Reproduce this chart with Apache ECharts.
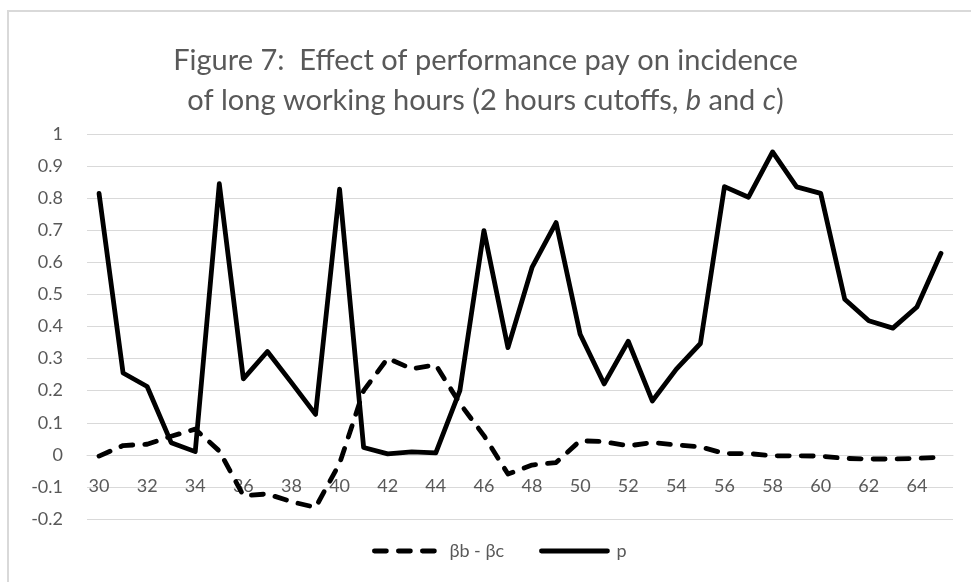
<!DOCTYPE html>
<html>
<head>
<meta charset="utf-8">
<script src="https://cdn.jsdelivr.net/npm/echarts@6/dist/echarts.min.js"></script>
<style>
  html, body { margin: 0; padding: 0; background: #fff; }
  #chart { width: 971px; height: 582px; }
</style>
</head>
<body>
<div id="chart"></div>
<script>
// hours worked (category axis)
const hours = ['30', '31', '32', '33', '34', '35', '36', '37', '38', '39',
  '40', '41', '42', '43', '44', '45', '46', '47', '48', '49',
  '50', '51', '52', '53', '54', '55', '56', '57', '58', '59',
  '60', '61', '62', '63', '64', '65'];

// βb - βc (dashed)
const betaDiff = [-0.004, 0.029, 0.033, 0.058, 0.08, 0.012, -0.127, -0.122, -0.146, -0.164,
  -0.027, 0.2, 0.301, 0.268, 0.28, 0.16, 0.06, -0.06, -0.032, -0.024,
  0.044, 0.041, 0.028, 0.038, 0.031, 0.025, 0.004, 0.004, -0.003, -0.003,
  -0.004, -0.011, -0.013, -0.013, -0.011, -0.008];

// p (solid)
const pValues = [0.815, 0.255, 0.213, 0.038, 0.01, 0.845, 0.237, 0.322, 0.225, 0.126,
  0.828, 0.023, 0.003, 0.009, 0.006, 0.2, 0.699, 0.334, 0.584, 0.724,
  0.376, 0.221, 0.354, 0.168, 0.267, 0.347, 0.836, 0.803, 0.944, 0.835,
  0.815, 0.485, 0.418, 0.395, 0.461, 0.628];

const seriesNames = ['βb - βc', 'p'];

const font = 'Lato, "Open Sans", sans-serif';
const textColor = '#595959';
const gridColor = '#d9d9d9';
const lineW = 4.8;

const chart = echarts.init(document.getElementById('chart'));
const option = {
  animation: false,
  backgroundColor: '#fff',
  textStyle: { fontFamily: font },
  graphic: [
    {
      type: 'rect',
      shape: { x: 8, y: 11, width: 1100, height: 1000 },
      style: { fill: 'none', stroke: gridColor, lineWidth: 2 },
      silent: true,
    },
  ],
  title: {
    text: 'Figure 7:  Effect of performance pay on incidence\nof long working hours (2 hours cutoffs, {i|b} and {i|c})',
    left: 'center',
    top: 36,
    textStyle: {
      fontFamily: font,
      fontSize: 29,
      fontWeight: 'normal',
      color: textColor,
      lineHeight: 40,
      align: 'center',
      rich: {
        i: { fontStyle: 'italic', fontSize: 29, fontFamily: font, color: textColor, lineHeight: 40 },
      },
    },
  },
  grid: {
    left: 87,
    right: 18,
    top: 134,
    bottom: 63,
  },
  legend: {
    left: 367,
    top: 537,
    itemWidth: 66,
    itemHeight: 10,
    itemGap: 35,
    itemStyle: { opacity: 0 },
    lineStyle: { width: lineW },
    textStyle: { fontFamily: font, fontSize: 18, color: textColor, padding: [0, 0, 0, 4], width: 68 },
    data: seriesNames,
  },
  xAxis: {
    type: 'category',
    data: hours,
    boundaryGap: true,
    // sits on the zero line (0 is 64px above the bottom of the grid)
    offset: -64,
    axisLine: { onZero: false, lineStyle: { color: gridColor, width: 1 } },
    axisTick: { show: false },
    axisLabel: {
      interval: 1,
      margin: 22,
      fontFamily: font,
      fontSize: 18,
      color: textColor,
    },
  },
  yAxis: {
    type: 'value',
    min: -0.2,
    max: 1,
    interval: 0.1,
    axisLine: { show: false },
    axisTick: { show: false },
    axisLabel: {
      margin: 24,
      fontFamily: font,
      fontSize: 18,
      color: textColor,
      formatter: v => String(Math.round(v * 10) / 10),
    },
    splitLine: { lineStyle: { color: gridColor, width: 1 } },
  },
  series: [
    {
      name: seriesNames[0],
      type: 'line',
      data: betaDiff,
      symbol: 'none',
      lineStyle: { color: '#000', width: lineW, type: [12, 12], cap: 'round', join: 'round' },
      itemStyle: { color: '#000' },
    },
    {
      name: seriesNames[1],
      type: 'line',
      data: pValues,
      symbol: 'none',
      lineStyle: { color: '#000', width: lineW, cap: 'round', join: 'round' },
      itemStyle: { color: '#000' },
    },
  ],
};
chart.setOption(option);
</script>
</body>
</html>
